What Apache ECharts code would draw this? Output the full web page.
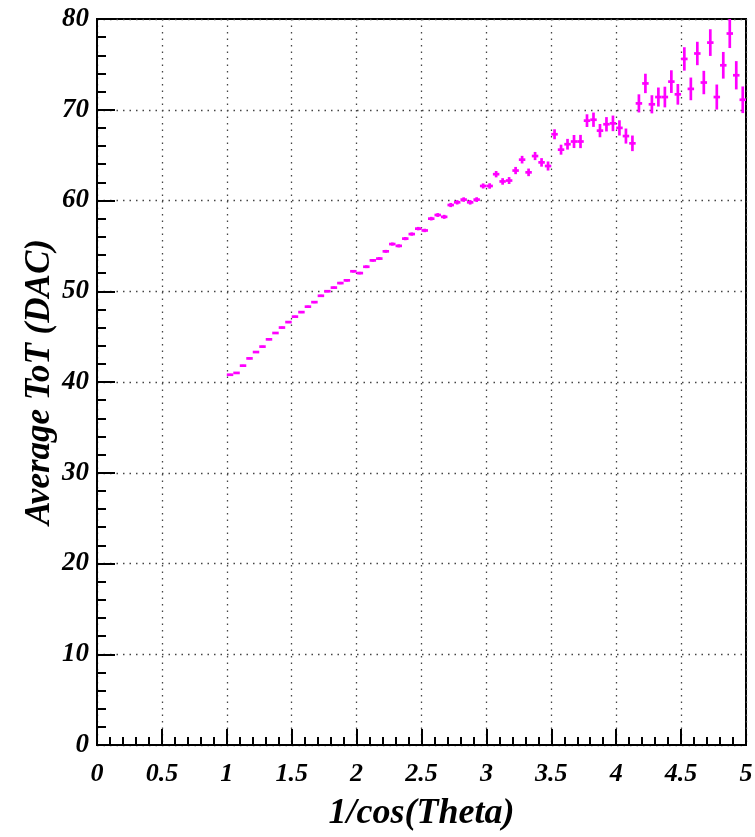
<!DOCTYPE html>
<html>
<head>
<meta charset="utf-8">
<script src="https://cdn.jsdelivr.net/npm/echarts@6/dist/echarts.min.js"></script>
<style>
html,body{margin:0;padding:0;background:#fff;}
#chart{width:755px;height:837px;}
</style>
</head>
<body>
<div id="chart"></div>
<script>
// Bin centres of 1/cos(Theta)
const xCenters = [
  1.025,1.075,1.125,1.175,1.225,1.275,1.325,1.375,1.425,1.475,
  1.525,1.575,1.625,1.675,1.725,1.775,1.825,1.875,1.925,1.975,
  2.025,2.075,2.125,2.175,2.225,2.275,2.325,2.375,2.425,2.475,
  2.525,2.575,2.625,2.675,2.725,2.775,2.825,2.875,2.925,2.975,
  3.025,3.075,3.125,3.175,3.225,3.275,3.325,3.375,3.425,3.475,
  3.525,3.575,3.625,3.675,3.725,3.775,3.825,3.875,3.925,3.975,
  4.025,4.075,4.125,4.175,4.225,4.275,4.325,4.375,4.425,4.475,
  4.525,4.575,4.625,4.675,4.725,4.775,4.825,4.875,4.925,4.975
];
// Average ToT (DAC)
const avgToT = [
  40.8,41.0,41.8,42.6,43.3,43.9,44.7,45.4,46.0,46.6,
  47.2,47.7,48.3,48.8,49.5,50.0,50.4,50.9,51.2,52.2,
  52.0,52.7,53.4,53.6,54.4,55.2,55.0,55.8,56.3,56.9,
  56.7,58.0,58.4,58.2,59.5,59.8,60.1,59.8,60.1,61.6,
  61.6,62.9,62.1,62.2,63.3,64.5,63.1,64.9,64.2,63.8,
  67.3,65.6,66.2,66.5,66.5,68.8,68.9,67.7,68.4,68.5,
  68.0,67.1,66.3,70.7,72.9,70.6,71.4,71.4,73.1,71.7,
  75.6,72.3,76.2,73.0,77.4,71.4,74.9,78.4,73.8,71.1
];
// vertical error bars (DAC)
const yErr = [
  0.10,0.10,0.10,0.10,0.10,0.10,0.10,0.10,0.11,0.11,
  0.11,0.11,0.12,0.12,0.12,0.12,0.13,0.13,0.13,0.14,
  0.14,0.15,0.15,0.16,0.16,0.17,0.17,0.18,0.18,0.19,
  0.19,0.20,0.21,0.22,0.23,0.24,0.25,0.25,0.26,0.28,
  0.30,0.35,0.36,0.38,0.40,0.42,0.42,0.45,0.47,0.50,
  0.55,0.55,0.59,0.72,0.73,0.70,0.79,0.73,0.79,0.86,
  0.84,0.83,0.86,1.00,1.07,1.00,1.05,1.14,1.25,1.14,
  1.29,1.25,1.29,1.29,1.47,1.38,1.47,1.60,1.56,1.47
];
const binHalfWidth = 0.025;
const xTicks = ['0','0.5','1','1.5','2','2.5','3','3.5','4','4.5','5'];
const yTicks = ['0','10','20','30','40','50','60','70','80'];

const data = xCenters.map((x,i)=>[x, avgToT[i], binHalfWidth, yErr[i]]);

const font = 'Liberation Serif';
const chart = echarts.init(document.getElementById('chart'), null, {renderer:'canvas'});
chart.setOption({
  backgroundColor:'#fff',
  animation:false,
  grid:{left:97, right:9, top:19, bottom:92, containLabel:false, outerBoundsMode:'none',
    show:true, borderColor:'#000', borderWidth:2, backgroundColor:'transparent'},
  xAxis:{
    type:'value', min:0, max:5, interval:0.5,
    name:'1/cos(Theta)', nameLocation:'middle', nameGap:51, nameMoveOverlap:false,
    nameTextStyle:{fontFamily:font, fontStyle:'italic', fontWeight:'bold', fontSize:36, color:'#000'},
    axisLine:{show:true, onZero:false, lineStyle:{color:'#000', width:2}},
    axisTick:{show:true, inside:true, length:16, lineStyle:{color:'#000', width:2}},
    minorTick:{show:true, splitNumber:5, length:8, lineStyle:{color:'#000', width:2}},
    axisLabel:{margin:16, fontFamily:font, fontStyle:'italic', fontWeight:'bold', fontSize:26, color:'#000',
      formatter:(v)=>{const i=Math.round(v/0.5); return xTicks[i]!==undefined?xTicks[i]:'';}},
    splitLine:{show:true, lineStyle:{color:'#444', width:1.3, type:[1.5,5]}}
  },
  yAxis:{
    type:'value', min:0, max:80, interval:10,
    name:'Average ToT (DAC)', nameLocation:'middle', nameGap:40, nameMoveOverlap:false,
    nameTextStyle:{fontFamily:font, fontStyle:'italic', fontWeight:'bold', fontSize:35, color:'#000'},
    axisLine:{show:true, onZero:false, lineStyle:{color:'#000', width:2}},
    axisTick:{show:true, inside:true, length:18, lineStyle:{color:'#000', width:2}},
    minorTick:{show:true, splitNumber:5, length:9, lineStyle:{color:'#000', width:2}},
    axisLabel:{margin:8, fontFamily:font, fontStyle:'italic', fontWeight:'bold', fontSize:27, color:'#000',
      formatter:(v)=>{const i=Math.round(v/10); return yTicks[i]!==undefined?yTicks[i]:'';}},
    splitLine:{show:true, lineStyle:{color:'#444', width:1.3, type:[1.5,5]}}
  },
  series:[{
    type:'custom',
    data:data,
    clip:true,
    renderItem:function(params, api){
      const x=api.value(0), y=api.value(1), ex=api.value(2), ey=api.value(3);
      const a=api.coord([x-ex,y]), b=api.coord([x+ex,y]);
      const c=api.coord([x,y-ey]), d=api.coord([x,y+ey]);
      const st={stroke:'#ff00ff', lineWidth:2.7};
      return {type:'group', children:[
        {type:'line', shape:{x1:a[0],y1:a[1],x2:b[0],y2:b[1]}, style:st},
        {type:'line', shape:{x1:c[0],y1:c[1],x2:d[0],y2:d[1]}, style:st}
      ]};
    }
  }]
});
</script>
</body>
</html>
